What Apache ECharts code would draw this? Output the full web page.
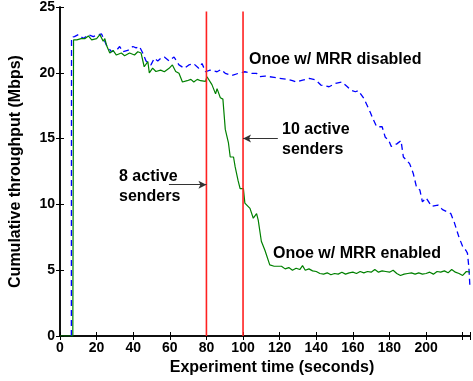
<!DOCTYPE html>
<html>
<head>
<meta charset="utf-8">
<script src="https://cdn.jsdelivr.net/npm/echarts@6/dist/echarts.min.js"></script>
<style>
  html, body { margin: 0; padding: 0; background: #fff; }
  #chart { width: 473px; height: 381px; }
</style>
</head>
<body>
<div id="chart"></div>
<script>
// Onoe w/ MRR enabled (green, solid)
const enabledTime = [0, 7, 7.4, 9.2, 11.5, 13.7, 15.5, 17.3, 20, 21.8, 23.6, 24.5, 25.4, 27.2, 29, 30.8, 33.5, 35.3, 38, 40.7,
  42.5, 44.3, 46, 48, 48.8, 50.6, 52.4, 53.4, 55, 57, 59.6, 61.4, 63.2, 65, 66.9, 69.5, 71.5, 73.1, 75, 76.8,
  79.5, 80.3, 83, 85, 85.8, 87.6, 88.5, 89, 90.3, 92, 93, 94.8, 95.7, 97.3, 98.4, 100.2, 101, 103.8, 105.6, 107.4,
  108.3, 110, 112, 112.8, 114.6, 117, 121, 123, 125, 127, 129, 131, 132.5, 134, 136, 138, 140, 142, 144, 146,
  148, 150, 152, 154, 156, 158, 160, 162, 164, 166, 168, 170, 172, 174, 176, 178, 180, 182, 184, 186,
  188, 190, 192, 194, 196, 198, 200, 202, 204, 206, 208, 210, 212, 214, 216, 218, 220, 222, 224];
const enabledMbps = [0, 0, 22.5, 22.5, 22.6, 22.6, 22.8, 22.5, 22.6, 22.9, 22.4, 22.6, 22.1, 21.5, 21.7, 21.35, 21.5, 21.3, 21.5, 21.35,
  21.6, 21.5, 20.46, 20.85, 20.0, 20.35, 20.1, 20.08, 20.2, 20.08, 20.34, 20.6, 20.1, 19.96, 19.3, 19.4, 19.5, 19.3, 19.5, 19.4,
  19.35, 19.7, 19.1, 18.4, 18.8, 18.1, 18.2, 18.0, 15.7, 14.7, 13.6, 13.6, 12.85, 11.8, 11.2, 11.2, 10.1, 9.7, 8.95, 9.3,
  8.8, 7.2, 6.5, 6.6, 5.4, 5.3, 5.3, 5.1, 5.2, 5.0, 5.15, 5.05, 5.35, 5.0, 5.1, 4.95, 4.9, 4.75, 4.7, 4.8,
  4.65, 4.75, 4.7, 4.85, 4.7, 4.8, 4.85, 4.75, 4.9, 4.8, 4.9, 4.85, 5.05, 4.85, 4.95, 4.9, 4.85, 5.0, 4.75, 4.6,
  4.7, 4.75, 4.8, 4.7, 4.8, 4.7, 4.75, 4.85, 4.7, 4.9, 4.85, 4.95, 4.8, 5.05, 4.85, 4.75, 4.6, 4.9, 4.85];

// Onoe w/ MRR disabled (blue, dashed)
const disabledTime = [6.2, 6.3, 7.9, 10, 12.8, 15.5, 18.2, 20.9, 22.7, 25.4, 28.1, 30.8, 32.6, 34.4, 37, 39.8, 41.6, 43.4, 45.2, 47,
  49.7, 51.5, 53.4, 55, 57, 59.6, 62.3, 65, 68, 70.4, 73, 75.8, 77.6, 79.5, 82, 85.8, 88, 90.3, 93.9, 97.5,
  101, 104.7, 107.4, 109, 112, 114.6, 117, 120, 124.5, 127, 129, 132.6, 136.2, 139.8, 142.5, 145, 147, 150.6, 154, 157,
  158.7, 161.4, 163, 166, 167.7, 169.5, 171, 173, 176, 177.7, 179.5, 181, 184, 186.3, 187.6, 191, 193, 194.8, 196.6, 198,
  200, 203, 206.5, 209, 213.5, 215.5, 218, 220, 221.8, 222.6, 223.4, 224];
const disabledMbps = [0, 22.7, 22.75, 22.9, 22.6, 22.9, 22.75, 22.9, 22.95, 22.1, 21.6, 21.7, 22.0, 21.6, 21.7, 22.0, 21.9, 22.0, 21.5, 20.9,
  20.6, 21.1, 20.9, 21.1, 21.2, 20.9, 21.2, 20.6, 20.34, 20.6, 20.7, 20.34, 20.7, 20.08, 20.2, 20.08, 20.25, 19.96, 19.8, 19.96,
  20.08, 19.96, 19.96, 19.7, 19.75, 19.7, 19.65, 19.57, 19.5, 19.4, 19.3, 19.45, 19.57, 19.45, 19.07, 19.0, 18.94, 19.2, 19.3, 18.94,
  18.7, 18.56, 18.65, 18.05, 17.55, 17.0, 16.5, 15.9, 15.9, 15.1, 14.9, 14.4, 14.6, 14.85, 13.6, 13.1, 12.35, 11.3, 11.1, 10.2,
  10.5, 9.85, 9.95, 9.6, 9.3, 8.6, 7.5, 6.8, 6.5, 6.3, 5.2, 3.6];

// sender-change markers (seconds)
const markerTimes = [80, 100];
const markerTop = 24.65;

// annotation arrows: [fromTime, fromMbps, toTime, toMbps]
const arrows = [[59.5, 11.5, 80, 11.5], [119, 15, 100, 15]];

const xTicks = [0, 20, 40, 60, 80, 100, 120, 140, 160, 180, 200];

const font = 'Liberation Sans, Arial, Helvetica, sans-serif';

function zip(xs, ys) {
  return xs.map((x, i) => [x, ys[i]]);
}

const chart = echarts.init(document.getElementById('chart'), null, { renderer: 'canvas' });

const axisLine = { show: true, lineStyle: { color: '#000', width: 1.5 } };
const tickIn = { show: true, inside: true, length: 4, lineStyle: { color: '#000', width: 1 } };
const labelStyle = { color: '#000', fontFamily: font, fontWeight: 'bold', fontSize: 14, margin: 5 };

const redSeries = markerTimes.map((t) => ({
  type: 'line',
  data: [[t, 0], [t, markerTop]],
  symbol: 'none',
  silent: true,
  lineStyle: { color: '#ff2020', width: 1.6 },
  z: 4,
}));

const option = {
  animation: false,
  grid: { left: 58, top: 7, right: 1, bottom: 45, containLabel: false },
  xAxis: [
    {
      type: 'value',
      min: 0,
      max: 224,
      interval: 20,
      position: 'bottom',
      name: 'Experiment time (seconds)',
      nameLocation: 'middle',
      nameGap: 24,
      nameTextStyle: { color: '#000', fontFamily: font, fontWeight: 'bold', fontSize: 16, padding: [0, 0, 0, 14] },
      axisLine: axisLine,
      axisTick: tickIn,
      axisLabel: Object.assign({}, labelStyle, {
        formatter: (v) => (xTicks.indexOf(v) >= 0 ? String(v) : ''),
      }),
      splitLine: { show: false },
    },
    {
      type: 'value',
      min: 0,
      max: 224,
      interval: 20,
      position: 'top',
      axisLine: axisLine,
      axisTick: tickIn,
      axisLabel: { show: false },
      splitLine: { show: false },
    },
  ],
  yAxis: [
    {
      type: 'value',
      min: 0,
      max: 25,
      interval: 5,
      position: 'left',
      name: 'Cumulative throughput (Mbps)',
      nameLocation: 'middle',
      nameGap: 36,
      nameRotate: 90,
      nameTextStyle: { color: '#000', fontFamily: font, fontWeight: 'bold', fontSize: 16 },
      axisLine: axisLine,
      axisTick: tickIn,
      axisLabel: labelStyle,
      splitLine: { show: false },
    },
    {
      type: 'value',
      min: 0,
      max: 25,
      interval: 5,
      position: 'right',
      axisLine: axisLine,
      axisTick: tickIn,
      axisLabel: { show: false },
      splitLine: { show: false },
    },
  ],
  series: [
    {
      name: 'Onoe w/ MRR disabled',
      type: 'line',
      data: zip(disabledTime, disabledMbps),
      symbol: 'none',
      lineStyle: { color: '#0000ff', width: 1.3, type: [6, 4] },
      z: 2,
    },
    {
      name: 'Onoe w/ MRR enabled',
      type: 'line',
      data: zip(enabledTime, enabledMbps),
      symbol: 'none',
      lineStyle: { color: '#008000', width: 1.2 },
      z: 3,
    },
    ...redSeries,
    {
      type: 'line',
      data: [],
      silent: true,
      markLine: {
        silent: true,
        symbol: ['none', 'arrow'],
        symbolSize: [6, 8],
        label: { show: false },
        lineStyle: { color: '#333', width: 1, type: 'solid' },
        data: arrows.map((a) => [{ coord: [a[0], a[1]] }, { coord: [a[2], a[3]] }]),
      },
    },
  ],
  graphic: [
    { type: 'text', left: 249, top: 52, style: { text: 'Onoe w/ MRR disabled', font: 'bold 16px ' + font, fill: '#000' } },
    { type: 'text', left: 282, top: 120, style: { text: '10 active\nsenders', font: 'bold 16px ' + font, fill: '#000', lineHeight: 20 } },
    { type: 'text', left: 119, top: 167, style: { text: '8 active\nsenders', font: 'bold 16px ' + font, fill: '#000', lineHeight: 20 } },
    { type: 'text', left: 273, top: 246, style: { text: 'Onoe w/ MRR enabled', font: 'bold 16px ' + font, fill: '#000' } },
  ],
};

chart.setOption(option);
</script>
</body>
</html>
